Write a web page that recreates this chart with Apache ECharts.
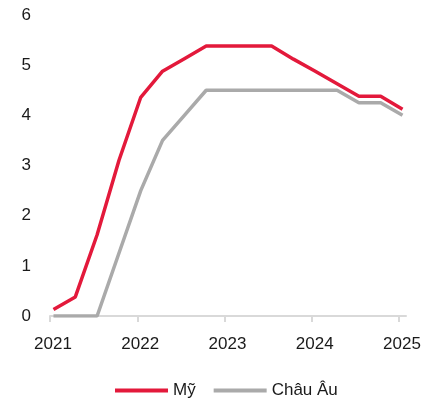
<!DOCTYPE html>
<html>
<head>
<meta charset="utf-8">
<script src="https://cdn.jsdelivr.net/npm/echarts@6/dist/echarts.min.js"></script>
<style>
  html, body { margin: 0; padding: 0; background: #fff; }
  #chart { width: 433px; height: 404px; }
</style>
</head>
<body>
<div id="chart"></div>
<script>
// Quarterly observations (decimal year), policy rates in %
const quarters = [
  2021.04, 2021.29, 2021.54, 2021.79,
  2022.04, 2022.29, 2022.54, 2022.79,
  2023.04, 2023.29, 2023.54, 2023.79,
  2024.04, 2024.29, 2024.54, 2024.79,
  2025.04
];
const usRates = [
  0.13, 0.38, 1.62, 3.1,
  4.36, 4.88, 5.13, 5.38,
  5.38, 5.38, 5.38, 5.12,
  4.88, 4.63, 4.38, 4.38,
  4.12
];
const euRates = [
  0, 0, 0, 1.25,
  2.5, 3.5, 4.0, 4.5,
  4.5, 4.5, 4.5, 4.5,
  4.5, 4.5, 4.25, 4.25,
  4.0
];
const seriesNames = ['Mỹ', 'Châu Âu'];
const yearTicks = [2021, 2022, 2023, 2024, 2025];

const font = '"Liberation Sans", Arial, sans-serif';

const pairs = vals => quarters.map((q, i) => [q, vals[i]]);

const chart = echarts.init(document.getElementById('chart'), null, { renderer: 'canvas' });
chart.setOption({
  animation: false,
  backgroundColor: '#ffffff',
  grid: { left: 50, right: 27, top: 15, bottom: 88, containLabel: false },
  legend: {
    data: seriesNames,
    left: 110,
    top: 377,
    icon: 'rect',
    itemWidth: 53,
    itemHeight: 4,
    itemGap: 18,
    textStyle: { fontFamily: font, fontSize: 17, color: '#1a1a1a' }
  },
  xAxis: {
    type: 'value',
    min: 2021,
    max: 2025.08,
    splitLine: { show: false },
    axisLine: { show: true, lineStyle: { color: '#d9d9d9', width: 2 } },
    axisTick: {
      show: true,
      length: 6,
      customValues: yearTicks,
      lineStyle: { color: '#d9d9d9', width: 2 }
    },
    axisLabel: {
      fontFamily: font,
      fontSize: 17,
      color: '#1a1a1a',
      margin: 20,
      padding: [0, 0, 0, 6],
      customValues: yearTicks,
      formatter: v => String(Math.round(v))
    }
  },
  yAxis: {
    type: 'value',
    min: 0,
    max: 6,
    interval: 1,
    splitLine: { show: false },
    axisLine: { show: false },
    axisTick: { show: false },
    axisLabel: {
      fontFamily: font,
      fontSize: 17,
      color: '#1a1a1a',
      margin: 19
    }
  },
  series: [
    {
      name: seriesNames[0],
      type: 'line',
      data: pairs(usRates),
      showSymbol: false,
      symbol: 'none',
      lineStyle: { color: '#e3193b', width: 3.5 },
      itemStyle: { color: '#e3193b' },
      z: 3
    },
    {
      name: seriesNames[1],
      type: 'line',
      data: pairs(euRates),
      showSymbol: false,
      symbol: 'none',
      lineStyle: { color: '#aaaaaa', width: 3.5 },
      itemStyle: { color: '#aaaaaa' },
      z: 2
    }
  ]
});
</script>
</body>
</html>
